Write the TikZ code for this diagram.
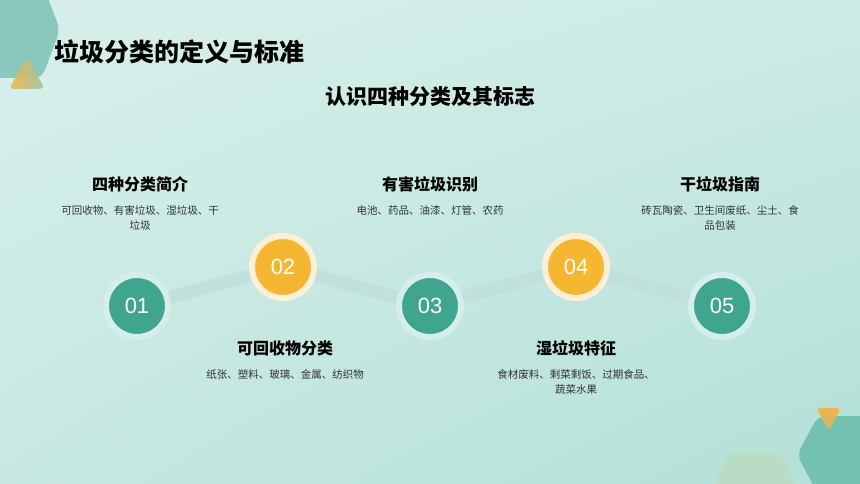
\documentclass[tikz,border=0pt]{standalone}
\usepackage{fontspec}
\setmainfont{Liberation Sans}
\newfontfamily\cjk{Noto Sans CJK SC}
\usepackage{tikz}
\usetikzlibrary{arrows.meta}
\tikzset{>=Stealth}
\usetikzlibrary{positioning,shadings}
\definecolor{bgA}{HTML}{D8EFEB}
\definecolor{bgB}{HTML}{B2E0D7}
\definecolor{tealdot}{HTML}{3FA58E}
\definecolor{tealhalo}{HTML}{D6EEEA}
\definecolor{gold}{HTML}{F5B731}
\definecolor{goldhalo}{HTML}{FDF0D6}
\definecolor{track}{HTML}{C0E0DB}
\definecolor{hexA}{HTML}{89C9BD}
\definecolor{hexB}{HTML}{74C1B1}
\definecolor{pale}{HTML}{BADCC4}
\definecolor{tri}{HTML}{F3B547}
\tikzset{
    stepdot/.style={circle,inner sep=0pt,minimum size=62pt,line width=6pt,
        text=white,font=\fontsize{22}{22}\selectfont},
    greendot/.style={stepdot,fill=tealdot,draw=tealhalo},
    golddot/.style={stepdot,fill=gold,draw=goldhalo},
    head/.style={font=\cjk\bfseries\fontsize{16}{18}\selectfont,text=black},
    desc/.style={font=\cjk\fontsize{10.5}{15}\selectfont,text=black!80,align=center}
}
\begin{document}
\begin{tikzpicture}[x=1pt,y=-1pt]
    \useasboundingbox (0,0) rectangle (860,484);
    \shade[upper left=bgA,upper right=bgA!70!bgB,lower left=bgA!55!bgB,lower right=bgB]
        (0,0) rectangle (860,484);
    % corner shapes
    \fill[hexA,rounded corners=8pt] (-10,-10) -- (45,-10) -- (60,30) -- (42,78) -- (-10,78) -- cycle;
    \shade[left color=tri,right color=hexA!80!tri,rounded corners=5pt,opacity=.9]
        (27,57) -- (45,89) -- (9,89) -- cycle;
    \fill[pale,rounded corners=8pt] (712,494) -- (728,452) -- (780,452) -- (798,494) -- cycle;
    \fill[hexB,rounded corners=8pt] (870,416) -- (818,416) -- (797,455) -- (818,494) -- (870,494) -- cycle;
    \shade[top color=tri,bottom color=tri!60!hexB,rounded corners=4pt]
        (816,408) -- (841,408) -- (829,431) -- cycle;
    % titles
    \node[anchor=west,font=\cjk\bfseries\fontsize{25}{28}\selectfont] (title) at (51,52) {垃圾分类的定义与标准};
    \node[font=\cjk\bfseries\fontsize{21}{24}\selectfont] (subtitle) at (430,97) {认识四种分类及其标志};
    % steps
    \node[greendot] at (137,306) (s01) {01};
    \node[golddot] at (283,267) (s02) {02};
    \node[greendot] at (430,306) (s03) {03};
    \node[golddot] at (576,267) (s04) {04};
    \node[greendot] at (722,306) (s05) {05};
    \path[draw=track,line width=13pt]
    (s01) edge (s02)
    (s02) edge (s03)
    (s03) edge (s04)
    (s04) edge (s05)
    ;
    % labels
    \node[head] at (140,184) (h01) {四种分类简介};
    \node[desc,anchor=north] at (140,202) (d01) {可回收物、有害垃圾、湿垃圾、干\\垃圾};
    \node[head] at (285,348) (h02) {可回收物分类};
    \node[desc,anchor=north] at (285,366) (d02) {纸张、塑料、玻璃、金属、纺织物};
    \node[head] at (430,184) (h03) {有害垃圾识别};
    \node[desc,anchor=north] at (430,202) (d03) {电池、药品、油漆、灯管、农药};
    \node[head] at (576,348) (h04) {湿垃圾特征};
    \node[desc,anchor=north] at (576,366) (d04) {食材废料、剩菜剩饭、过期食品、\\蔬菜水果};
    \node[head] at (720,184) (h05) {干垃圾指南};
    \node[desc,anchor=north] at (720,202) (d05) {砖瓦陶瓷、卫生间废纸、尘土、食\\品包装};
\end{tikzpicture}
\end{document}
